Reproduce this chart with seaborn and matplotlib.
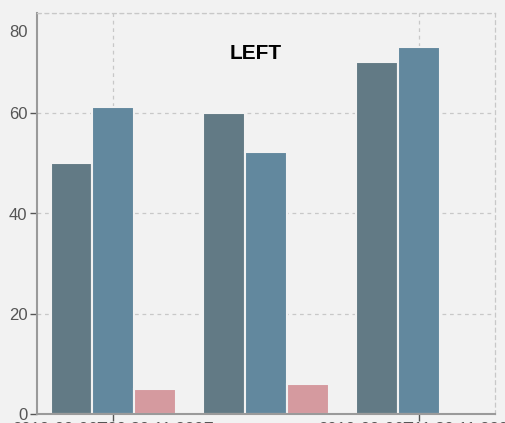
import matplotlib
matplotlib.use("Agg")
import matplotlib.pyplot as plt
import matplotlib.transforms as mtransforms
import pandas as pd
import seaborn as sns

# данные
times = ["2019-09-06T09:39:11.229Z", "2019-09-06T10:39:11.229Z", "2019-09-06T11:39:11.229Z"]
series = ["A", "B", "C"]
values_a = [50, 60, 70.3]
values_b = [61.2, 52.2, 73.3]
values_c = [5, 6, 0]
tick_labels = ["2019-09-06T09:39:11.229Z", "2019-09-06T11:39:11.229Z"]

palette = ["#627a85", "#62889e", "#d59a9f"]

rows = []
for s, vals in zip(series, [values_a, values_b, values_c]):
    for t, v in zip(times, vals):
        if v > 0:
            rows.append({"time": t, "series": s, "value": v})
df = pd.DataFrame(rows)

sns.set_style("whitegrid")
plt.rcParams['font.family'] = ['Liberation Sans', 'DejaVu Sans']

fig = plt.figure(figsize=(5.05, 4.23), dpi=100, facecolor="#f2f2f2")
ax = fig.add_axes([37 / 505, 1 - 414 / 423, 458 / 505, 401 / 423])
ax.set_facecolor("#f2f2f2")

sns.barplot(
    data=df, x="time", y="value", hue="series", order=times, hue_order=series,
    palette=palette, width=0.82, edgecolor="#f2f2f2", linewidth=1.5,
    saturation=1, ax=ax, legend=False,
)

ax.set_xlim(-0.5, 2.5)
ax.set_ylim(0, 80)
ax.set_yticks([0, 20, 40, 60, 80])
ax.set_xticks([0, 2])
ax.set_xticklabels(tick_labels)
ax.set_xlabel("")
ax.set_ylabel("")

ax.grid(True, color="#c8c8c8", linestyle=(0, (3, 3)), linewidth=0.9)
ax.set_axisbelow(True)

for side in ["left", "bottom"]:
    ax.spines[side].set_color("#9a9a9a")
    ax.spines[side].set_linewidth(1.5)
for side in ["top", "right"]:
    ax.spines[side].set_color("#c8c8c8")
    ax.spines[side].set_linestyle((0, (3, 3)))
    ax.spines[side].set_linewidth(0.9)

ax.tick_params(axis="y", colors="#555555", labelsize=12, length=5, width=1,
               direction="out", left=True, pad=2)
ax.tick_params(axis="x", colors="#555555", labelsize=12, length=5, width=1,
               direction="out", bottom=True, pad=1)

# подпись 80 чуть ниже верхнего края, как в оригинале
shift = mtransforms.ScaledTranslation(0, -13 / 72, fig.dpi_scale_trans)
for lbl, tick in zip(ax.get_yticklabels(), ax.yaxis.get_major_ticks()):
    if lbl.get_text() == "80":
        lbl.set_transform(lbl.get_transform() + shift)
        tick.tick1line.set_visible(False)

ax.text(0.477, 0.9, "LEFT", transform=ax.transAxes, ha="center", va="center",
        fontsize=15, fontweight="bold", color="black")

fig.savefig("out.png", dpi=100, facecolor=fig.get_facecolor())
